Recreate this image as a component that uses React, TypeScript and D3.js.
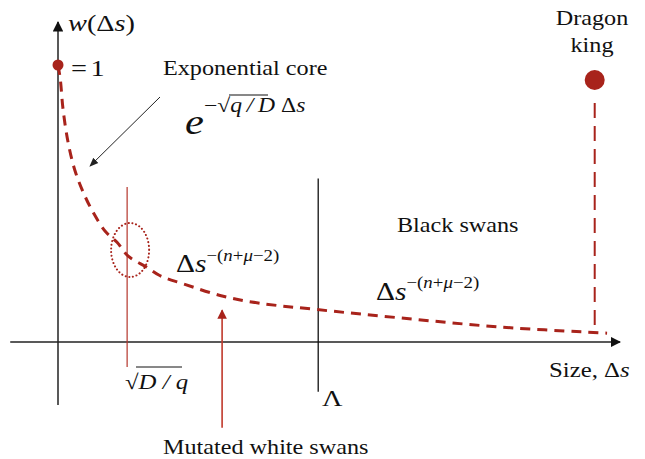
import * as d3 from "d3";

// dashed decay curve w(Δs)
const curveSize = [0, 0.04, 0.09, 0.18, 0.3, 0.45, 0.62, 0.84, 1.05, 1.25, 1.58, 1.81, 2.23, 2.94, 3.59, 4.61, 6.09, 7.87, 9.77];
const curveWeight = [1, 0.95, 0.84, 0.72, 0.62, 0.54, 0.47, 0.4, 0.36, 0.31, 0.27, 0.24, 0.21, 0.165, 0.14, 0.117, 0.087, 0.054, 0.032];

// markers on the size axis
const sqrtDq = 1.23;
const lambda = 4.63;
const mutatedAt = 2.92;
const dragonSize = 9.55;
const dragonWeight = 0.946;

const RED = "#a8231b";
const FONT = "Liberation Serif, serif";
const SX = 1.18; // text in the source is a bit stretched horizontally

function Label({x, y, size, anchor = "start", children}: any) {
    return <g transform={`translate(${x},${y}) scale(${SX},1)`}>
        <text fontFamily={FONT} fontSize={size} textAnchor={anchor} fill="#111">{children}</text>
    </g>
}

export default function App() {
    const width = 645;
    const height = 459;

    const x = d3.scaleLinear().domain([0, 10]).range([58, 620]);
    const y = d3.scaleLinear().domain([0, 1]).range([342, 65]);

    const pts = curveSize.map((s, i) => [s, curveWeight[i]] as [number, number]);
    const line = d3.line<[number, number]>()
        .x(d => x(d[0]))
        .y(d => y(d[1]))
        .curve(d3.curveCatmullRom.alpha(0.5));

    const x0 = x(0), y0 = y(0);

    return <svg width={width} height={height} style={{position: "absolute", left: 0, top: 0, background: "#fff"}}>
        <defs>
            <marker id="blk" viewBox="0 0 10 10" refX="9" refY="5" markerWidth="7" markerHeight="7" orient="auto">
                <path d="M0,0 L10,5 L0,10 z" fill="#111"/>
            </marker>
            <marker id="thin" viewBox="0 0 10 10" refX="9" refY="5" markerWidth="9" markerHeight="9" orient="auto" markerUnits="userSpaceOnUse">
                <path d="M0,1 L10,5 L0,9 z" fill="#222"/>
            </marker>
            <marker id="red" viewBox="0 0 10 10" refX="9" refY="5" markerWidth="6" markerHeight="6" orient="auto">
                <path d="M0,0 L10,5 L0,10 z" fill={RED}/>
            </marker>
        </defs>

        {/* axes */}
        <line x1={x(-0.85)} y1={y0} x2={x(10)} y2={y0} stroke="#222" strokeWidth={1.5} markerEnd="url(#blk)"/>
        <line x1={x0} y1={y(-0.227)} x2={x0} y2={y(1.155)} stroke="#222" strokeWidth={1.5} markerEnd="url(#blk)"/>

        {/* threshold lines */}
        <line x1={x(sqrtDq)} y1={y(0.56)} x2={x(sqrtDq)} y2={y(-0.09)} stroke="#b5352b" strokeWidth={1.2}/>
        <line x1={x(lambda)} y1={y(0.59)} x2={x(lambda)} y2={y(-0.18)} stroke="#111" strokeWidth={1.3}/>

        {/* dotted ellipse around the crossover */}
        <ellipse cx={x(sqrtDq) + 3} cy={250} rx={19} ry={27} fill="none" stroke={RED}
                 strokeWidth={2} strokeDasharray="0.1,3.6" strokeLinecap="round"/>

        {/* main curve */}
        <path d={line(pts) || ""} fill="none" stroke={RED} strokeWidth={3} strokeDasharray="10,7"/>

        {/* dragon king */}
        <line x1={x(dragonSize)} y1={y(dragonWeight) + 23} x2={x(dragonSize)} y2={y(0.043)}
              stroke={RED} strokeWidth={2} strokeDasharray="15,8"/>
        <circle cx={x(dragonSize)} cy={y(dragonWeight)} r={10} fill={RED}/>
        <circle cx={x0} cy={y(1)} r={5.5} fill={RED}/>

        {/* arrows */}
        <line x1={160} y1={97} x2={x(0.57)} y2={166} stroke="#222" strokeWidth={1} markerEnd="url(#thin)"/>
        <line x1={x(mutatedAt)} y1={y(-0.31)} x2={x(mutatedAt)} y2={y(0.115)} stroke="#c0392b"
              strokeWidth={1.6} markerEnd="url(#red)"/>

        {/* labels */}
        <Label x={68} y={31} size={24}><tspan fontStyle="italic">w</tspan>(Δ<tspan fontStyle="italic">s</tspan>)</Label>
        <Label x={71} y={76} size={24}>=<tspan dx={3}>1</tspan></Label>
        <Label x={163} y={75} size={20.5}>Exponential core</Label>

        <Label x={185} y={134} size={36}><tspan fontStyle="italic">e</tspan></Label>
        <Label x={204} y={112} size={20}>−√<tspan fontStyle="italic">q{"\u2009"}/{"\u2009"}D</tspan> Δ<tspan fontStyle="italic">s</tspan></Label>
        <line x1={229} y1={95} x2={268} y2={95} stroke="#111" strokeWidth={1}/>

        <Label x={176} y={272} size={25}>Δ<tspan fontStyle="italic">s</tspan>
            <tspan dy={-11} fontSize={16}>−(<tspan fontStyle="italic">n</tspan>+<tspan fontStyle="italic">μ</tspan>−2)</tspan></Label>
        <Label x={376} y={300} size={25}>Δ<tspan fontStyle="italic">s</tspan>
            <tspan dy={-12} fontSize={16}>−(<tspan fontStyle="italic">n</tspan>+<tspan fontStyle="italic">μ</tspan>−2)</tspan></Label>

        <Label x={397} y={232} size={20.5}>Black swans</Label>
        <Label x={549} y={377} size={21}>Size, Δ<tspan fontStyle="italic">s</tspan></Label>
        <Label x={592} y={25} size={20.5} anchor="middle">Dragon</Label>
        <Label x={592} y={52} size={20.5} anchor="middle">king</Label>
        <Label x={163} y={454} size={20.5}>Mutated white swans</Label>
        <Label x={322} y={406} size={24}>Λ</Label>

        <Label x={125} y={389} size={21}>√<tspan fontStyle="italic">D / q</tspan></Label>
        <line x1={136} y1={367} x2={182} y2={367} stroke="#111" strokeWidth={1}/>
    </svg>
}
